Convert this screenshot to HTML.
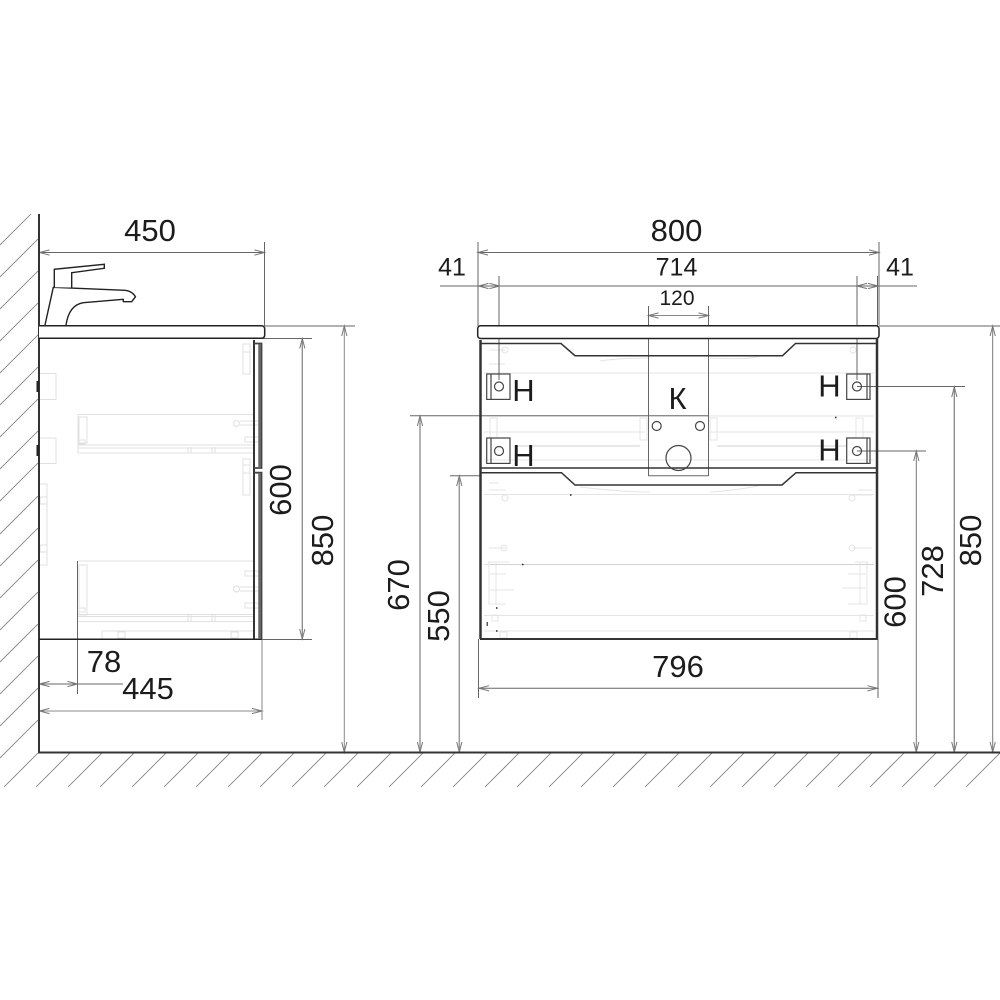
<!DOCTYPE html>
<html>
<head>
<meta charset="utf-8">
<style>
html,body{margin:0;padding:0;background:#fff}
svg{display:block}
text{font-family:"Liberation Sans",sans-serif;fill:#1c1c1c;text-anchor:middle}
.a{font-size:31px}
.b{font-size:25px}
.c{font-size:21px}
.h{font-size:31px}
</style>
</head>
<body>
<svg width="1000" height="1000" viewBox="0 0 1000 1000" xmlns="http://www.w3.org/2000/svg">
<defs>
<marker id="ar" markerUnits="userSpaceOnUse" markerWidth="14" markerHeight="8" refX="11" refY="4" orient="auto-start-reverse">
<path d="M1 1.4L11 4L1 6.6" fill="none" stroke="#777" stroke-width="1"/>
</marker>
</defs>
<rect width="1000" height="1000" fill="#fff"/>

<!-- hatch -->
<path fill="none" stroke="#777" stroke-width="0.8" d="M31 214L0 245M38 239L0 277M38 271L0 309M38 303L0 341M38 335L0 373M38 367L0 405M38 399L0 437M38 431L0 469M38 463L0 501M38 496L0 534M38 528L0 566M38 560L0 598M38 592L0 630M38 624L0 662M38 656L0 694M38 688L0 726M38 720L0 758M38 753L4 787M70 753L36 787M102 753L68 787M134 753L100 787M166 753L132 787M198 753L164 787M230 753L196 787M262 753L228 787M294 753L260 787M326 753L292 787M358 753L324 787M391 753L357 787M423 753L389 787M455 753L421 787M487 753L453 787M519 753L485 787M551 753L517 787M583 753L549 787M615 753L581 787M647 753L613 787M679 753L645 787M712 753L678 787M744 753L710 787M776 753L742 787M808 753L774 787M840 753L806 787M872 753L838 787M904 753L870 787M936 753L902 787M968 753L934 787M1000 753L966 787"/>

<!-- ghost details side -->
<g fill="none" stroke="#e0e0e0" stroke-width="1">
<rect x="39" y="373.5" width="17" height="26"/>
<rect x="39" y="438" width="17" height="25.5"/>
<rect x="39" y="484" width="8" height="81"/>
<rect x="40" y="497" width="7" height="7"/>
<rect x="40" y="545" width="7" height="7"/>
<rect x="243" y="344" width="7" height="30"/>
<rect x="243" y="344" width="7" height="8"/>
<rect x="243" y="459" width="7" height="36"/>
<rect x="243" y="465" width="7" height="8"/>
<path d="M78 414.5H253M78 445H253M78 448H253M78 453H253M78 414.5V453"/>
<rect x="79" y="417" width="8" height="26"/>
<rect x="79" y="440" width="6" height="4"/>
<rect x="245" y="437" width="14" height="5"/>
<path d="M240 421H260M240 425H260M188 447V453M191 447V453M212 447V453M215 447V453"/>
<circle cx="236.5" cy="423.5" r="3"/>
<path d="M78 561H253M78 614.5H253M78 616.5H253M78 621.5H253"/>
<rect x="79" y="565" width="8" height="50"/>
<rect x="79" y="608" width="6" height="4"/>
<rect x="245" y="571" width="14" height="5"/>
<rect x="245" y="603" width="14" height="5"/>
<path d="M240 587H260M240 591H260M188 615V621M191 615V621M212 615V621M215 615V621"/>
<circle cx="236.5" cy="589" r="3"/>
<path d="M102 639V631H253"/>
<rect x="118" y="632" width="7" height="6"/>
<rect x="231" y="632" width="7" height="6"/>
</g>

<!-- ghost details front -->
<g fill="none" stroke="#e4e4e4" stroke-width="1">
<path d="M484 373H874M484 416H874M484 432H645M710 432H874M484 460H874M484 494.5H874M484 564.5H874M484 615.5H874M484 631H874"/>
<path d="M600 361Q620 358 650 358M710 358Q750 360 760 356M580 487Q620 492 650 492M710 492Q740 490 762 485"/>
<path d="M489 350H505M489 364H505M489 483H499M489 490H506M489 548H506M858 490H872M852 548H872M852 495H872"/>
<circle cx="505" cy="350" r="3"/>
<circle cx="505" cy="498" r="3"/>
<circle cx="504" cy="548" r="3"/>
<circle cx="852" cy="498" r="3"/>
<circle cx="852" cy="548" r="3"/>
<circle cx="853" cy="350" r="3"/>
<rect x="490" y="418" width="7" height="20"/>
<rect x="856" y="418" width="7" height="20"/>
<rect x="640" y="418" width="7" height="22"/>
<rect x="710" y="418" width="7" height="22"/>
<path d="M490 432H515M622 432H640M717 432H735M842 432H862M488 562H510M490 574H506M489 590H514M489 604H506M855 562H868M848 574H866M842 588H866M848 604H866"/>
<rect x="489" y="562" width="7" height="42"/>
<rect x="860" y="562" width="7" height="42"/>
<rect x="492" y="615" width="6" height="6"/>
<rect x="860" y="615" width="6" height="6"/>
<rect x="500" y="632" width="7" height="6"/>
<rect x="850" y="632" width="7" height="6"/>
</g>
<path d="M515 446H640M717 446H846M490 564.5H874" stroke="#d2d2d2" stroke-width="1" fill="none"/>
<path d="M835 417.5h1.5M570 495h1.5M522 564.5h1.5M486.5 623h1.5M486.5 625h1.5M496 608h1.5M496 631h1.5" stroke="#222" stroke-width="1.5" fill="none"/>

<!-- dimensions -->
<g fill="none" stroke="#666" stroke-width="1">
<path d="M39.5 252.5H264.5" marker-start="url(#ar)" marker-end="url(#ar)"/>
<path d="M264.5 242V326M265 326H355M262 338.5H312M262 639.5H312"/>
<path d="M77.5 561V694"/>
<path d="M39.5 684H77.5" marker-start="url(#ar)" marker-end="url(#ar)"/>
<path d="M77.5 684H123"/>
<path d="M39.5 711H262" marker-start="url(#ar)" marker-end="url(#ar)" stroke="#888"/>
<path d="M262 639V720" stroke="#888"/>
<path d="M478 252.5H879" marker-start="url(#ar)" marker-end="url(#ar)"/>
<path d="M478 242V325M879 242V325"/>
<path d="M440 286H917"/>
<path d="M478.5 286H499.5" marker-start="url(#ar)" marker-end="url(#ar)"/>
<path d="M857 286H878" marker-start="url(#ar)" marker-end="url(#ar)"/>
<path d="M478 276V326M877.5 276V326M499 276V380M857 276V380"/>
<path d="M648.5 315.5H708.5" marker-start="url(#ar)" marker-end="url(#ar)" stroke="#888"/>
<path d="M648.5 306V476M708.5 306V476M648.5 475.7H708.5M410 415.7H708.5"/>
<path d="M879 326H1000M857 386.5H965M857 451H926M450 475.7H480"/>
<path d="M479 688.3H877.5" marker-start="url(#ar)" marker-end="url(#ar)"/>
<path d="M478.5 639V698M878 639V698"/>
<path d="M344.3 326V752" marker-start="url(#ar)" marker-end="url(#ar)" stroke="#888"/>
<path d="M302.3 338.5V639" marker-start="url(#ar)" marker-end="url(#ar)" stroke="#888" stroke-width="1.3"/>
<path d="M420 416V752" marker-start="url(#ar)" marker-end="url(#ar)" stroke="#999" stroke-width="1.5"/>
<path d="M459.3 476V752" marker-start="url(#ar)" marker-end="url(#ar)" stroke="#999" stroke-width="1.5"/>
<path d="M916.3 451V752" marker-start="url(#ar)" marker-end="url(#ar)" stroke="#777"/>
<path d="M954.3 387V752" marker-start="url(#ar)" marker-end="url(#ar)" stroke="#888" stroke-width="1.3"/>
<path d="M992.7 326V752" marker-start="url(#ar)" marker-end="url(#ar)" stroke="#777"/>
</g>

<!-- wall and floor -->
<path d="M39 214V752.5H1000" fill="none" stroke="#333" stroke-width="2"/>
<rect x="36.5" y="381" width="2.5" height="11" fill="#222"/>
<rect x="36.5" y="445" width="2.5" height="11" fill="#222"/>

<!-- side cabinet -->
<path d="M39 325.7H261Q264.7 325.7 264.7 329V335Q264.7 338.3 261 338.3H39" fill="#fff" stroke="#222" stroke-width="1.5"/>
<path d="M39 639.3H262" stroke="#222" stroke-width="1.5" fill="none"/>
<path d="M254 340V639" stroke="#333" stroke-width="2" fill="none"/>
<path d="M254 343.5H261.5V468H254M254 472.7H261.5V639" fill="none" stroke="#444" stroke-width="1.8"/>
<path d="M259.5 344V468M259.5 473V639" fill="none" stroke="#666" stroke-width="2.5"/>

<!-- faucet -->
<path d="M45 325L53.3 287.3L125 290.3Q132 291 135.5 296.7L131.7 301.7H123.3V299.3L83.3 302.7Q69 305 66 325" fill="#fff" stroke="#222" stroke-width="1.4" stroke-linejoin="round"/>
<path d="M54.3 287.3V269.3L104.3 264.3V268.3L71.7 272.7V287.5" fill="#fff" stroke="#222" stroke-width="1.4"/>

<!-- front cabinet -->
<rect x="477.7" y="325.7" width="401.3" height="12.8" rx="3" fill="#fff" stroke="#222" stroke-width="1.5"/>
<path d="M480.5 340V639M877 338V639" fill="none" stroke="#333" stroke-width="2.5"/>
<path d="M480 639H877.5" fill="none" stroke="#333" stroke-width="2"/>
<path d="M481 468H877" fill="none" stroke="#333" stroke-width="1.5"/>
<path d="M481 343.5H561L575 355.7H782.5L795.5 343.5H876" fill="none" stroke="#333" stroke-width="1.5"/>
<path d="M481 472.7H561.5L575 485H782L796 472.7H876" fill="none" stroke="#333" stroke-width="1.5"/>

<!-- mounts -->
<g fill="none" stroke="#444" stroke-width="1.2">
<rect x="486.7" y="374" width="23.3" height="25.4"/>
<path d="M491 374V399.4"/>
<circle cx="499" cy="386.5" r="4.5"/>
<rect x="486.7" y="438" width="23.3" height="25.4"/>
<path d="M491 438V463.4"/>
<circle cx="499" cy="451" r="4.5"/>
<rect x="846.7" y="374" width="23.3" height="25.4"/>
<path d="M867 374V399.4"/>
<circle cx="857" cy="386.5" r="4.5"/>
<rect x="846.7" y="438" width="23.3" height="25.4"/>
<path d="M867 438V463.4"/>
<circle cx="857" cy="451" r="4.5"/>
<circle cx="656.7" cy="426" r="4.5"/>
<circle cx="700" cy="426" r="4.5"/>
<circle cx="678.5" cy="458" r="12.5"/>
</g>

<!-- labels -->
<text class="a" x="150" y="241">450</text>
<text class="a" x="676.5" y="241">800</text>
<text class="b" x="676.5" y="275.7">714</text>
<text class="c" x="677" y="305">120</text>
<text class="b" x="452" y="275.7">41</text>
<text class="b" x="900" y="275.7">41</text>
<text class="a" x="104" y="672">78</text>
<text class="a" x="148" y="699">445</text>
<text class="a" x="678" y="677">796</text>
<text class="h" x="523.5" y="401">Н</text>
<text class="h" x="523.5" y="466">Н</text>
<text class="h" x="829.5" y="396.7">Н</text>
<text class="h" x="829.5" y="460.7">Н</text>
<text class="h" x="677.5" y="409">К</text>
<text class="a" transform="translate(291,490) rotate(-90)">600</text>
<text class="a" transform="translate(333,540.5) rotate(-90)">850</text>
<text class="a" transform="translate(409,585) rotate(-90)">670</text>
<text class="a" transform="translate(449,616) rotate(-90)">550</text>
<text class="a" transform="translate(905.5,602) rotate(-90)">600</text>
<text class="a" transform="translate(943,571) rotate(-90)">728</text>
<text class="a" transform="translate(981,540.5) rotate(-90)">850</text>
</svg>
</body>
</html>
